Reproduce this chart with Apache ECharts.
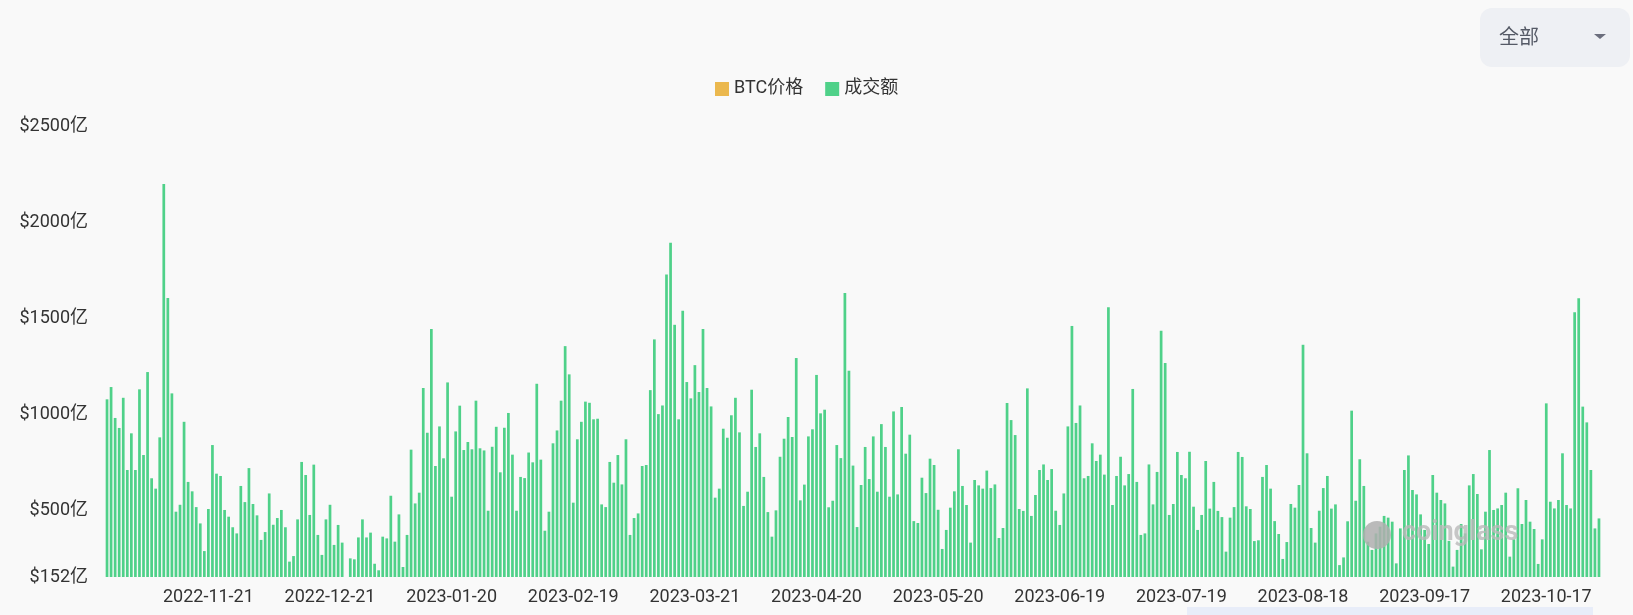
<!DOCTYPE html>
<html><head><meta charset="utf-8">
<script src="https://cdn.jsdelivr.net/npm/echarts@6/dist/echarts.min.js"></script>
<style>html,body{margin:0;padding:0;background:#f9f9f9;overflow:hidden}#c{width:1633px;height:615px}</style>
</head><body><div id="c"></div>
<script>
// first day of the daily series
const startYear = 2022, startMonth = 10, startDay = 27;
// daily trading volume (亿 USD)
const volume = [
1077,1141,980,928,1085,709,900,709,1129,787,1219,666,612,879,2198,1604,1108,492,528,960,647,598,516,431,287,506,839,690,678,501,466,411,379,626,542,719,532,473,345,
386,587,424,459,501,411,232,261,452,751,683,475,737,371,267,452,528,319,423,331,152,249,244,358,452,358,383,221,187,362,353,575,336,478,204,371,815,535,591,1136,903,1443,730,936,770,1165,570,910,1044,813,855,817,1070,822,811,497,
830,934,697,929,1006,789,497,673,667,800,749,1158,763,393,492,848,915,1070,1354,1207,539,869,960,1065,1059,973,976,530,516,751,643,787,634,869,371,459,483,730,735,1125,1389,1000,1045,1727,1892,1465,973,1538,1167,1082,1255,1115,1443,1136,1040,565,612,
924,877,994,1085,905,522,596,1127,829,900,673,490,362,499,778,872,985,881,1292,551,633,884,921,1204,1004,1023,515,549,839,771,1630,1226,732,412,631,829,662,884,596,948,829,570,1014,582,1037,794,893,443,433,669,589,768,735,502,298,397,513,
598,817,626,527,331,657,629,612,706,615,634,355,407,1058,969,891,506,496,1134,470,579,709,738,657,714,497,423,587,936,1459,954,1045,666,678,848,756,789,685,1556,527,678,778,629,688,1131,647,371,379,738,530,699,1434,1266,475,532,803,
683,666,804,518,397,475,756,508,647,496,464,284,461,516,803,777,520,506,339,343,673,735,612,443,376,246,334,532,513,631,1361,796,407,331,497,615,678,508,530,214,254,442,1018,549,765,626,336,293,379,414,470,461,440,223,405,709,785,
605,582,478,397,324,683,591,553,535,340,206,293,428,379,629,688,584,296,492,813,501,509,527,591,258,348,614,428,553,440,402,220,348,1056,544,509,553,796,527,509,1530,1603,1039,957,709,405,457
];
// BTC price series is listed in the legend but not drawn in this view
const btcPrice = [];
const xTickLabels = ['2022-11-21','2022-12-21','2023-01-20','2023-02-19','2023-03-21','2023-04-20','2023-05-20','2023-06-19','2023-07-19','2023-08-18','2023-09-17','2023-10-17'];
const yTickValues = [152, 500, 1000, 1500, 2000, 2500];
const legendNames = ['BTC价格', '成交额'];

const dates = [];
const t0 = Date.UTC(startYear, startMonth - 1, startDay);
for (let i = 0; i < volume.length; i++) {
  dates.push(new Date(t0 + i * 86400000).toISOString().slice(0, 10));
}

const chart = echarts.init(document.getElementById('c'), null, {renderer: 'canvas'});
const FONT = 'Roboto, "Noto Sans CJK SC", sans-serif';
chart.setOption({
  backgroundColor: '#f9f9f9',
  animation: false,
  textStyle: {fontFamily: FONT},
  legend: {
    data: [{name: legendNames[0]}, {name: legendNames[1]}],
    left: 710, top: 75,
    icon: 'rect', itemWidth: 14, itemHeight: 14, itemGap: 22, itemTextGap: 8,
    textStyle: {fontSize: 18, color: '#333', fontFamily: FONT}
  },
  grid: {left: 105, right: 32, top: 126, bottom: 38},
  xAxis: {
    type: 'category',
    data: dates,
    axisLine: {show: false},
    axisTick: {show: false},
    axisLabel: {
      interval: function (idx, val) { return xTickLabels.indexOf(val) >= 0; },
      color: '#333', fontSize: 18, margin: 12, fontFamily: FONT
    }
  },
  yAxis: {
    type: 'value',
    min: yTickValues[0], max: yTickValues[yTickValues.length - 1],
    splitLine: {show: false},
    axisLine: {show: false},
    axisTick: {show: false},
    axisLabel: {
      customValues: yTickValues,
      formatter: function (v) { return '$' + v + '亿'; },
      color: '#333', fontSize: 18, margin: 17, fontFamily: FONT
    }
  },
  series: [
    {name: legendNames[0], type: 'line', data: btcPrice, itemStyle: {color: '#ebb84e'}, lineStyle: {color: '#ebb84e'}, showSymbol: false},
    {name: legendNames[1], type: 'bar', data: volume, barCategoryGap: '33%', itemStyle: {color: '#4fd189'}}
  ],
  graphic: [
    {type: 'rect', left: 1480, top: 8, shape: {width: 150, height: 59, r: 12}, style: {fill: '#eef0f4'}, z: 10},
    {type: 'text', left: 1499, top: 26, style: {text: '全部', fontSize: 20, fill: '#555a66', fontFamily: '"Noto Sans CJK SC", sans-serif'}, z: 11},
    {type: 'polygon', shape: {points: [[1594, 34], [1606, 34], [1600, 39]]}, style: {fill: '#6b6e7d'}, z: 11},
    {type: 'circle', shape: {cx: 1377, cy: 535, r: 14}, style: {fill: 'rgba(175,175,175,0.85)'}, z: 20},
    {type: 'text', left: 1402, top: 520, style: {text: 'coinglass', fontSize: 27, fontWeight: 'bold', fill: 'rgba(185,185,185,0.8)', fontFamily: 'Roboto, sans-serif'}, z: 20},
    {type: 'rect', left: 1187, top: 607, shape: {width: 406, height: 10}, style: {fill: '#e8edf9'}, z: 5}
  ]
});
</script>
</body></html>
